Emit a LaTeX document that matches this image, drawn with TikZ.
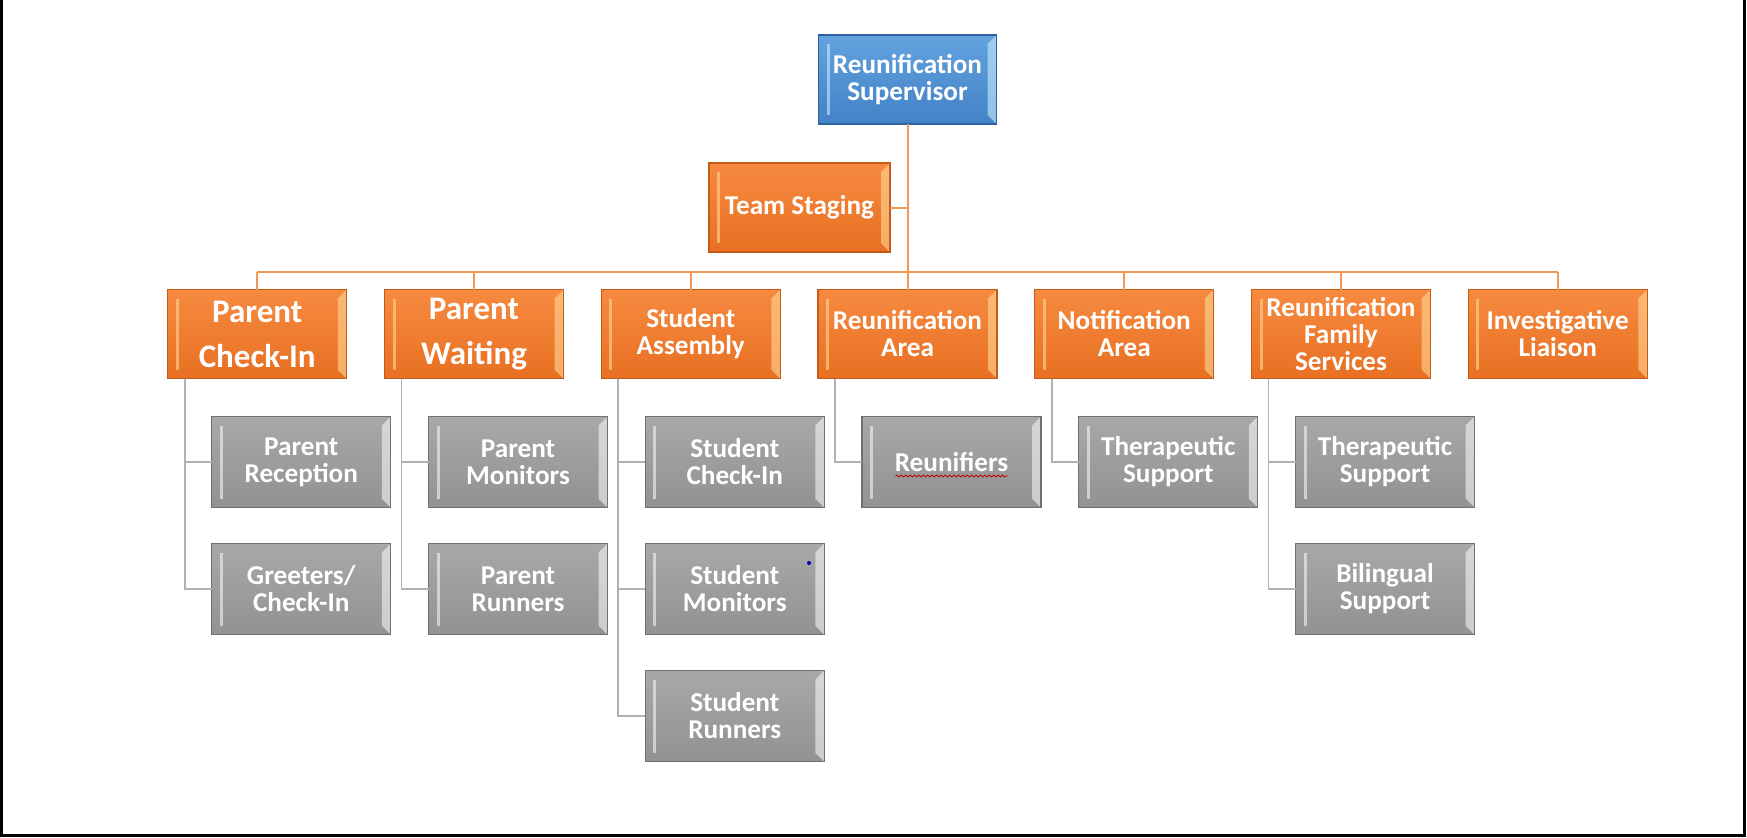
\documentclass[tikz,border=0pt]{standalone}
\usepackage{fontspec}
\setmainfont{Carlito}
\usetikzlibrary{positioning}
\usetikzlibrary{decorations.pathmorphing}
\definecolor{orgtop}{RGB}{246,138,64}
\definecolor{orgbot}{RGB}{232,112,34}
\definecolor{orgrim}{RGB}{196,92,24}
\definecolor{orghi}{RGB}{255,216,150}
\definecolor{blutop}{RGB}{98,162,222}
\definecolor{blubot}{RGB}{66,130,198}
\definecolor{blurim}{RGB}{46,96,160}
\definecolor{bluhi}{RGB}{200,236,252}
\definecolor{grytop}{RGB}{168,168,168}
\definecolor{grybot}{RGB}{146,146,146}
\definecolor{gryrim}{RGB}{112,112,112}
\definecolor{gryhi}{RGB}{245,245,245}
\definecolor{orgwire}{RGB}{244,150,84}
\definecolor{grywire}{RGB}{178,178,178}
\newcommand{\boxtxt}{\bfseries\fontsize{13.6}{13.5}\selectfont}
\newcommand{\bigtxt}{\bfseries\fontsize{16.5}{22.5}\selectfont}
\tikzset{%
  bevel/.style={path picture={
      \fill[#1,opacity=.6] ([xshift=4pt,yshift=-4.5pt]path picture bounding box.north west)
        rectangle ([xshift=5.5pt,yshift=4.5pt]path picture bounding box.south west);
      \fill[#1,opacity=.6] (path picture bounding box.north east)
        -- ([xshift=-4.5pt,yshift=-4.5pt]path picture bounding box.north east)
        -- ([xshift=-4.5pt,yshift=4.5pt]path picture bounding box.south east)
        -- (path picture bounding box.south east) -- cycle;}},
  mybox/.style={rectangle, minimum width=89.5pt, minimum height=44.5pt, inner sep=0pt,
    outer sep=0pt, line width=.7pt, align=center, text=white, font=\boxtxt},
  topbox/.style={mybox, draw=blurim, top color=blutop, bottom color=blubot, bevel=bluhi},
  leadbox/.style={mybox, draw=orgrim, top color=orgtop, bottom color=orgbot, bevel=orghi},
  subbox/.style={mybox, minimum height=45.5pt, draw=gryrim, top color=grytop, bottom color=grybot, bevel=gryhi},
  leadedge/.style={draw=orgwire, line width=1pt},
  subedge/.style={draw=grywire, line width=.8pt}
}
\begin{document}
\begin{tikzpicture}[x=0.5pt,y=0.5pt]
  \useasboundingbox (0,0) rectangle (1747,-837);
  \draw[line width=1.5pt] (1.5,0) -- (1.5,-835.5) -- (1744.5,-835.5) -- (1744.5,0);

  \node[topbox, minimum width=89pt] (sup) at (907.5,-79.5) {Reunification\\Supervisor};
  \node[leadbox, minimum width=90.5pt] (stg) at (799.5,-207.5) {Team Staging};

  \node[leadbox, below=82.75pt of sup] (rar) {Reunification\\Area};
  \node[leadbox, left=18.875pt of rar] (sas) {Student\\Assembly};
  \node[leadbox, left=18.875pt of sas, font=\bigtxt] (pwt) {Parent\\Waiting};
  \node[leadbox, left=18.875pt of pwt, font=\bigtxt] (pci) {Parent\\Check-In};
  \node[leadbox, right=18.875pt of rar] (nar) {Notification\\Area};
  \node[leadbox, right=18.875pt of nar] (rfs) {Reunification\\Family\\Services};
  \node[leadbox, right=18.875pt of rfs] (inv) {Investigative\\Liaison};

  \node[subbox, below right=19pt and 22pt of pci.south west] (prc) {Parent\\Reception};
  \node[subbox, below=18pt of prc] (grt) {Greeters/\\Check-In};
  \node[subbox, below right=19pt and 22pt of pwt.south west] (pmn) {Parent\\Monitors};
  \node[subbox, below=18pt of pmn] (prn) {Parent\\Runners};
  \node[subbox, below right=19pt and 22pt of sas.south west] (sci) {Student\\Check-In};
  \node[subbox, below=18pt of sci] (smn) {Student\\Monitors};
  \node[subbox, below=18pt of smn] (srn) {Student\\Runners};
  \node[subbox, below right=19pt and 22pt of rar.south west] (rnf) {Reunifiers};
  \node[subbox, below right=19pt and 22pt of nar.south west] (nts) {Therapeutic\\Support};
  \node[subbox, below right=19pt and 22pt of rfs.south west] (fts) {Therapeutic\\Support};
  \node[subbox, below=18pt of fts] (bls) {Bilingual\\Support};

  \coordinate (bus) at (0,-272);
  \draw[leadedge] (sup) -- (rar);
  \draw[leadedge] (stg) -- (stg -| sup);
  \draw[leadedge] (pci.north |- bus) -- (inv.north |- bus);
  \foreach \n in {pci,pwt,sas,nar,rfs,inv}
    \draw[leadedge] (\n) -- (\n.north |- bus);
  \foreach \p/\c in {pci/prc,pci/grt,pwt/pmn,pwt/prn,sas/sci,sas/smn,sas/srn,rar/rnf,nar/nts,rfs/fts,rfs/bls}
    \draw[subedge] ([xshift=8.5pt]\p.south west) |- (\c.west);

  \fill[blue!70!black] (809,-563) circle (1pt);
  \draw[red!75!black, line width=.4pt, decorate, decoration={snake, amplitude=.5pt, segment length=2.2pt}]
    ([xshift=-28pt,yshift=-7pt]rnf.center) -- ([xshift=28pt,yshift=-7pt]rnf.center);
\end{tikzpicture}
\end{document}
